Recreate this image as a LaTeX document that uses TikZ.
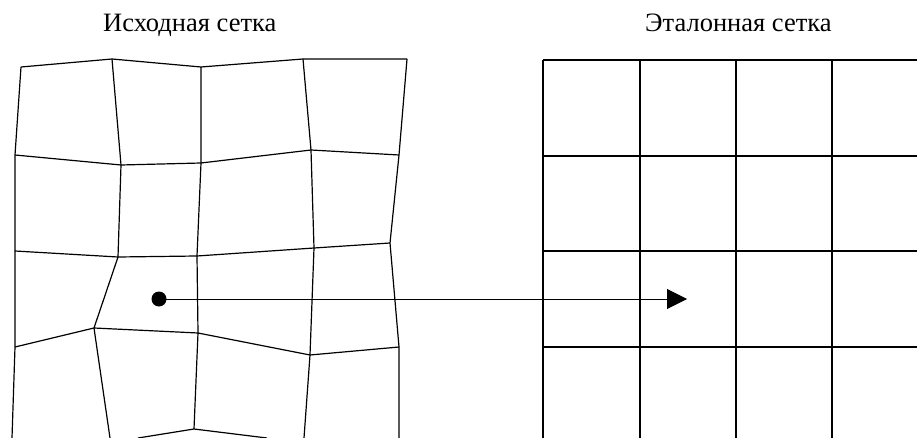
\documentclass[tikz,border=0pt]{standalone}
\usepackage{fontspec}
\setmainfont{Liberation Serif}
\usetikzlibrary{arrows.meta}
\begin{document}
\begin{tikzpicture}[x=1pt,y=-1pt,
  gridline/.style={line width=1.2pt,line join=miter},
  title/.style={anchor=base west,inner sep=0pt,font=\fontsize{26.5}{31}\selectfont},
  dotnode/.style={circle,fill=black,inner sep=0pt,minimum size=15pt},
  arrowline/.style={line width=1pt,-{Triangle[length=20pt,width=20pt]}}]
\useasboundingbox (0,0) rectangle (917,438);
% titles
\node[title] (t1) at (103,32) {Исходная сетка};
\node[title] (t2) at (645,32) {Эталонная сетка};
% distorted grid vertices
\coordinate (a0) at (21,67);  \coordinate (b0) at (112,59); \coordinate (c0) at (201,67); \coordinate (d0) at (303,59); \coordinate (e0) at (407,59);
\coordinate (a1) at (15,155); \coordinate (b1) at (121,165); \coordinate (c1) at (201,163); \coordinate (d1) at (311,150); \coordinate (e1) at (399,155);
\coordinate (a2) at (15,251); \coordinate (b2) at (118,257); \coordinate (c2) at (197,256); \coordinate (d2) at (314,248); \coordinate (e2) at (390,243);
\coordinate (a3) at (15,347); \coordinate (b3) at (94,328);  \coordinate (c3) at (198,333); \coordinate (d3) at (310,355); \coordinate (e3) at (399,347);
\coordinate (a4) at (12,438); \coordinate (b4) at (110,438); \coordinate (c4) at (194,429); \coordinate (d4) at (304,438); \coordinate (e4) at (399,438);
\coordinate (bl) at (138,438); \coordinate (br) at (267,438);
% rows
\draw[gridline] (a0) -- (b0) -- (c0) -- (d0) -- (e0);
\draw[gridline] (a1) -- (b1) -- (c1) -- (d1) -- (e1);
\draw[gridline] (a2) -- (b2) -- (c2) -- (d2) -- (e2);
\draw[gridline] (a3) -- (b3) -- (c3) -- (d3) -- (e3);
\draw[gridline] (bl) -- (c4) -- (br);
% columns
\draw[gridline] (a0) -- (a1) -- (a2) -- (a3) -- (a4);
\draw[gridline] (b0) -- (b1) -- (b2) -- (b3) -- (b4);
\draw[gridline] (c0) -- (c1) -- (c2) -- (c3) -- (c4);
\draw[gridline] (d0) -- (d1) -- (d2) -- (d3) -- (d4);
\draw[gridline] (e0) -- (e1) -- (e2) -- (e3) -- (e4);
% reference grid
\foreach \x/\n in {543/p,640/q,736/r,832/s}{
  \coordinate (\n t) at (\x,60); \coordinate (\n b) at (\x,438);
  \draw[gridline] (\n t) -- (\n b);
}
\foreach \y/\n in {60/h0,156/h1,251/h2,347/h3}{
  \coordinate (\n l) at (543,\y); \coordinate (\n r) at (917,\y);
  \draw[gridline] (\n l) -- (\n r);
}
% mapping arrow
\node[dotnode] (dot) at (159,299) {};
\coordinate (tip) at (687,299);
\draw[arrowline] (dot.center) -- (tip);
\end{tikzpicture}
\end{document}
